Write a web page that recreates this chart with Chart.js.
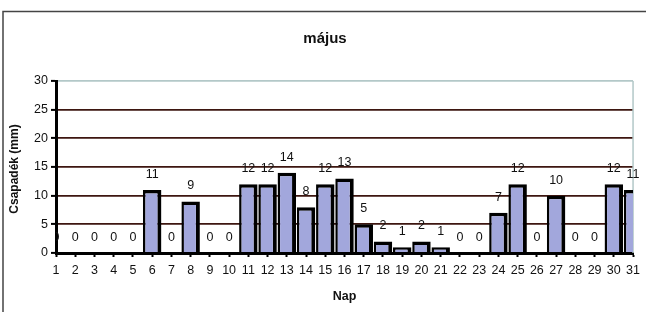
<!DOCTYPE html>
<html><head><meta charset="utf-8">
<script src="https://cdn.jsdelivr.net/npm/chart.js@4.4.1/dist/chart.umd.min.js"></script>
<style>html,body{margin:0;padding:0;background:#fff}#w{width:646px;height:312px}</style>
</head><body><div id="w"><canvas id="c" width="646" height="312"></canvas></div>
<script>
const days = ['1','2','3','4','5','6','7','8','9','10','11','12','13','14','15','16','17','18','19','20','21','22','23','24','25','26','27','28','29','30','31'];
const rain = [0,0,0,0,0,11,0,9,0,0,12,12,14,8,12,13,5,2,1,2,1,0,0,7,12,0,10,0,0,12,11];
const yTicks = [0,5,10,15,20,25,30];
const titleText = 'május';
const yTitle = 'Csapadék (mm)';
const xTitle = 'Nap';

const deco = {
  id: 'deco',
  beforeDraw(chart) {
    const c = chart.ctx;
    c.save();
    c.fillStyle = '#fff';
    c.fillRect(0, 0, chart.width, chart.height);
    c.strokeStyle = '#444';
    c.lineWidth = 1.5;
    c.beginPath();
    c.moveTo(3, 320); c.lineTo(3, 11.5); c.lineTo(660, 11.5);
    c.stroke();
    c.restore();
  },
  beforeDatasetsDraw(chart) {
    const a = chart.chartArea, c = chart.ctx;
    c.save();
    c.strokeStyle = '#b3c8c8';
    c.lineWidth = 1.5;
    c.beginPath();
    c.moveTo(a.right, a.top); c.lineTo(a.right, a.bottom);
    c.stroke();
    c.restore();
  },
  afterDatasetsDraw(chart) {
    const a = chart.chartArea, c = chart.ctx;
    const meta = chart.getDatasetMeta(0);
    c.save();
    c.beginPath();
    c.rect(a.left, 0, chart.width - a.left, chart.height);
    c.clip();
    c.fillStyle = '#111';
    c.font = '12.5px Arial, "Liberation Sans", sans-serif';
    c.textAlign = 'center';
    c.textBaseline = 'middle';
    meta.data.forEach((bar, i) => {
      c.fillText(String(rain[i]), bar.x, bar.y - 15.5);
    });
    c.restore();
    c.save();
    c.fillStyle = '#111';
    c.textAlign = 'center';
    c.textBaseline = 'middle';
    c.font = 'bold 15px Arial, "Liberation Sans", sans-serif';
    c.fillText(titleText, 325, 39);
    c.font = 'bold 12.5px Arial, "Liberation Sans", sans-serif';
    c.fillText(xTitle, (a.left + a.right) / 2, 297);
    c.translate(15, 169);
    c.rotate(-Math.PI / 2);
    c.font = 'bold 12px Arial, "Liberation Sans", sans-serif';
    c.fillText(yTitle, 0, 0);
    c.restore();
  }
};

new Chart(document.getElementById('c'), {
  type: 'bar',
  data: {
    labels: days,
    datasets: [{
      data: rain,
      backgroundColor: '#a2a7dc',
      borderColor: '#000',
      borderWidth: ctx => (rain[ctx.dataIndex] === 0 ? 0 : {top: 3.5, left: 2.5, right: 4, bottom: 0}),
      borderSkipped: false,
      categoryPercentage: 1,
      barPercentage: 0.96,
      clip: 0
    }]
  },
  options: {
    responsive: false,
    animation: false,
    events: [],
    layout: { padding: { top: 81, right: 8, left: 0, bottom: 0 } },
    plugins: { legend: { display: false }, title: { display: false }, tooltip: { enabled: false } },
    scales: {
      x: {
        offset: false,
        afterFit(s) { s.height = 59; },
        grid: { offset: false, drawOnChartArea: false, drawTicks: true, tickLength: 4, tickColor: '#000', tickWidth: 2 },
        border: { color: '#000', width: 3 },
        ticks: { autoSkip: false, maxRotation: 0, minRotation: 0, padding: 6, color: '#111', font: { family: 'Arial, "Liberation Sans", sans-serif', size: 12.5 } }
      },
      y: {
        min: 0, max: 30,
        afterFit(s) { s.width = 56; },
        afterBuildTicks(s) { s.ticks = yTicks.map(v => ({ value: v })); },
        grid: {
          color: ctx => (ctx.tick && ctx.tick.value === 30 ? '#b3c8c8' : '#3d1610'),
          lineWidth: 1.8,
          drawTicks: true, tickLength: 5, tickColor: '#000', tickWidth: 2
        },
        border: { color: '#000', width: 3 },
        ticks: { padding: 3, color: '#111', font: { family: 'Arial, "Liberation Sans", sans-serif', size: 12.5 } }
      }
    }
  },
  plugins: [deco]
});
</script>
</body></html>
